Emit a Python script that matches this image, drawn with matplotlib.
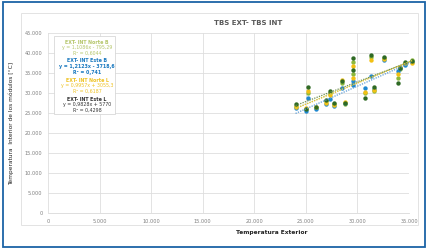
import matplotlib.pyplot as plt
import numpy as np
from matplotlib.patches import Rectangle
from matplotlib.ticker import FuncFormatter

# outside temperature (x) and inside temperature of each series
x_ext = [24000, 25000, 25200, 26000, 27000, 27300, 27700, 28500, 28800,
         29600, 29600, 30700, 31300, 31600, 32600, 33900, 34100, 34600, 35300]
norte_b = [26800, 26000, 30000, 26300, 28000, 30000, 27200, 32500, 27300,
           37800, 34800, 30000, 39000, 30500, 38800, 33700, 36000, 37300, 38200]
este_b = [26300, 25400, 28800, 26000, 27300, 28500, 26800, 31200, 27600,
          33000, 32000, 31300, 34300, 31000, 38300, 35500, 36200, 37000, 37800]
norte_l = [26600, 26200, 30600, 26400, 27600, 29500, 27000, 33200, 27800,
           36700, 33800, 30200, 38200, 30800, 38500, 34700, 36500, 37500, 37500]
este_l = [27200, 26100, 31600, 26600, 28300, 30500, 27400, 33000, 27500,
          38700, 35800, 28800, 39500, 31600, 39000, 32400, 36300, 37700, 38100]

# trendline labels shown in the chart
names = ['EXT- INT Norte B', 'EXT- INT Este B', 'EXT- INT Norte L', 'EXT- INT Este L']
eq_txt = ['y = 1,1086x - 795,29', 'y = 1,2123x - 3718,6',
          'y = 0,9957x + 3055,3', 'y = 0,9828x + 5770']
r2 = ['0,6044', '0,741', '0,6187', '0,4298']

marker_colors = ['#8db83c', '#1f88d0', '#f2c014', '#2f6a24']
text_colors = ['#b5c66a', '#1878bf', '#eec222', '#333333']
line_colors = ['#b9cf6e', '#5b9bd5', '#e8c23a', '#6f8f4f']

fig = plt.figure(figsize=(4.28, 2.49), dpi=100)
W, H = 428, 249

# outer blue frame and inner grey chart frame
fig.patches.append(Rectangle((3 / W, 2 / H), 422 / W, 245 / H, transform=fig.transFigure,
                             fill=False, edgecolor='#1b63a6', linewidth=1.3))
fig.patches.append(Rectangle((21 / W, 1 - 225 / H), 397 / W, 212 / H, transform=fig.transFigure,
                             fill=False, edgecolor='#e3e3e3', linewidth=0.7))

ax = fig.add_axes([48 / W, 1 - 213 / H, 361 / W, 180 / H])
ax.set_xlim(0, 35000)
ax.set_ylim(0, 45000)
ax.set_xticks(range(0, 35001, 5000))
ax.set_yticks(range(0, 45001, 5000))
fmt = FuncFormatter(lambda v, p: '{:,.0f}'.format(v).replace(',', '.'))
ax.xaxis.set_major_formatter(fmt)
ax.yaxis.set_major_formatter(fmt)
ax.tick_params(length=0, labelsize=3.6, labelcolor='#7f7f7f', pad=4)
ax.grid(True, color='#dedede', linewidth=0.6)
ax.set_axisbelow(True)
for s in ['top', 'right', 'left']:
    ax.spines[s].set_visible(False)
ax.spines['bottom'].set_color('#d9d9d9')
ax.spines['bottom'].set_linewidth(0.6)

series = [norte_b, este_b, norte_l, este_l]
x_lo, x_hi = min(x_ext), max(x_ext)
for i, ys in enumerate(series):
    ax.scatter(x_ext, ys, s=10, color=marker_colors[i], linewidths=0, zorder=3, clip_on=False)
# linear trendlines fitted to each series
for i, ys in enumerate(series):
    k, b = np.polyfit(x_ext, ys, 1)
    xs = np.array([x_lo, x_hi])
    ax.plot(xs, k * xs + b, linestyle=(0, (1, 1)),
            color=line_colors[i], linewidth=0.9, zorder=4, clip_on=False)

ax.set_xlabel('Temperatura Exterior', fontsize=4.2, fontweight='bold', color='#222222')
ax.xaxis.set_label_coords(0.62, -0.095)
ax.set_ylabel('Temperatura  Interior de los módulos [°C]', fontsize=4.2, color='#222222')
ax.yaxis.set_label_coords(-0.095, 0.5)

fig.text(248 / W, 1 - 23 / H, 'TBS EXT- TBS INT', fontsize=5, fontweight='bold',
         color='#595959', ha='center', va='center')

# trendline label box
fig.patches.append(Rectangle((54 / W, 1 - 114 / H), 61 / W, 78 / H, transform=fig.transFigure,
                             facecolor='white', edgecolor='#d0d0d0', linewidth=0.5, zorder=5))
for i in range(4):
    y0 = 42 + i * 19
    fig.text(87 / W, 1 - y0 / H, names[i], fontsize=3.4, fontweight='bold',
             color=text_colors[i], ha='center', va='center', zorder=6)
    fig.text(87 / W, 1 - (y0 + 5.5) / H, eq_txt[i], fontsize=3.4,
             color=text_colors[i], ha='center', va='center', zorder=6,
             fontweight='bold' if i == 1 else 'normal')
    fig.text(87 / W, 1 - (y0 + 11) / H, 'R² = ' + r2[i], fontsize=3.4,
             color=text_colors[i], ha='center', va='center', zorder=6,
             fontweight='bold' if i == 1 else 'normal')

fig.savefig('out.png', dpi=100)
